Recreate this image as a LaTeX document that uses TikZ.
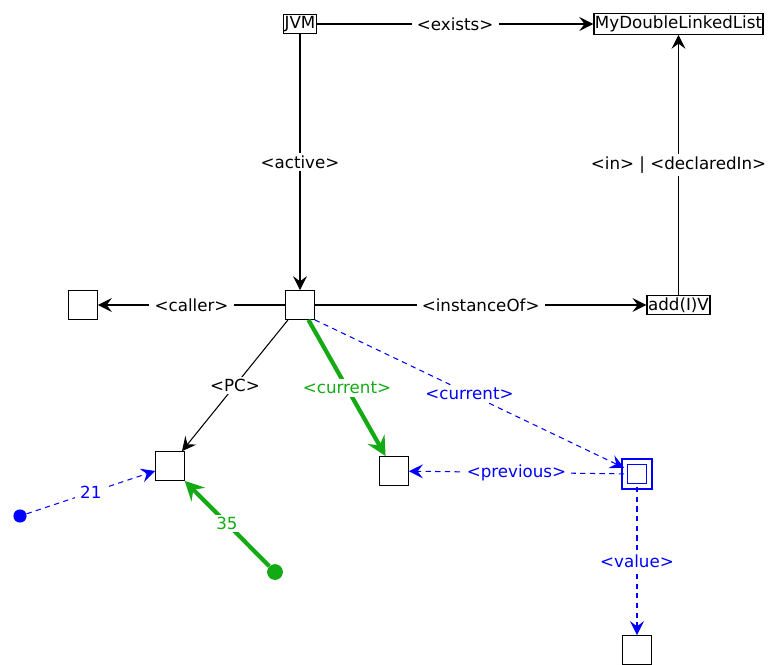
\documentclass[tikz,border=0pt]{standalone}
\usepackage{fontspec}
\setmainfont{DejaVu Sans}
\usetikzlibrary{arrows.meta, positioning}
\definecolor{curgreen}{RGB}{20,170,20}
\definecolor{refblue}{RGB}{0,0,255}

\begin{document}
\begin{tikzpicture}[x=0.02cm, y=-0.02cm, font=\fontsize{9.5}{11}\selectfont,
    objbox/.style={draw, line width=0.7pt, minimum size=0.57cm, inner sep=0pt},
    namebox/.style={draw, line width=0.7pt, inner xsep=0.6pt, inner ysep=1.2pt},
    listbox/.style={draw=refblue, line width=0.7pt, double, double distance=2.4pt, minimum size=14pt, inner sep=0pt},
    edge/.style={line width=0.6pt, -{Stealth[length=8pt, width=8pt, inset=3pt]}},
    curedge/.style={curgreen, line width=2.4pt, -{Stealth[length=11pt, width=11pt, inset=4pt]}},
    refedge/.style={refblue, line width=0.6pt, dash pattern=on 3pt off 2.5pt, -{Stealth[length=8pt, width=8pt, inset=3pt]}},
    lbl/.style={fill=white, inner xsep=3pt, inner ysep=1.5pt},
    endpt/.style={circle, fill, inner sep=0pt, minimum size=#1},
]
\useasboundingbox (0,0) rectangle (772,664);

% named objects
\node[namebox] (jvm) at (300,24) {JVM};
\node[namebox] (mdll) at (678.5,24) {MyDoubleLinkedList};
\node[namebox] (addiv) at (678.5,305) {add(I)V};

% frame and its neighbours
\node[objbox] (frame) at (300,305) {};
\node[objbox] (caller) at (83,305) {};
\node[objbox] (pc) at (170,466) {};
\node[objbox] (cur) at (394,471) {};
\node[listbox] (lst) at (637,474) {};
\node[objbox] (val) at (637,650) {};

% loose ends
\node[endpt=7.5pt, refblue] (bdot) at (20,516) {};
\node[endpt=9pt, curgreen] (gdot) at (275,572) {};

% black structure edges
\draw[edge] (jvm) -- node[lbl] {<exists>} (mdll);
\draw[edge] (jvm) -- node[lbl] {<active>} (frame);
\draw[edge] (addiv) -- node[lbl] {<in> | <declaredIn>} (mdll);
\draw[edge] (frame) -- node[lbl] {<caller>} (caller);
\draw[edge] (frame) -- node[lbl] {<instanceOf>} (addiv);
\draw[edge] (frame) -- node[lbl] {<PC>} (pc);

% green: current state
\draw[curedge] (frame) -- node[lbl] {<current>} (cur);
\draw[curedge] (gdot) -- node[lbl] {35} (pc);

% blue: references
\draw[refedge] (frame.south east) -- node[lbl] {<current>} (lst);
\draw[refedge] (lst) -- node[lbl] {<previous>} (cur);
\draw[refedge] (lst) -- node[lbl] {<value>} (val);
\draw[refedge] (bdot) -- node[lbl] {21} (pc);
\end{tikzpicture}
\end{document}
